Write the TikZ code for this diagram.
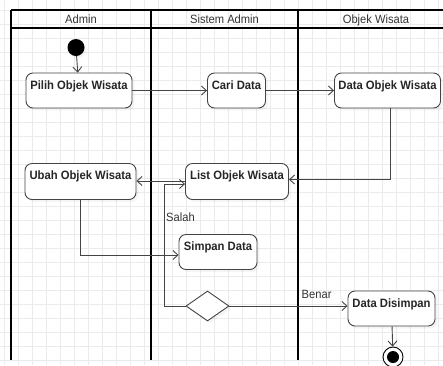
\documentclass[tikz,border=0pt]{standalone}
\usepackage{fontspec}
\setmainfont{Liberation Sans}[FakeStretch=0.93]
\usetikzlibrary{arrows.meta,shapes.geometric,shadows,calc}
\definecolor{linegray}{HTML}{444444}
\definecolor{gridgray}{HTML}{EBEBEB}
\tikzset{%
    act/.style={%
        draw=linegray, rounded corners=7, fill=white, line width=0.9,
        minimum height=35, inner sep=0pt, text height=16, text depth=19,
        font=\fontsize{12.1}{14}\selectfont\bfseries, text=black!85,
        drop shadow={shadow xshift=2.5pt, shadow yshift=-2.5pt, opacity=0.08}
    },
    flow/.style={%
        draw=linegray, line width=0.9, -{Straight Barb[length=5pt,width=9pt]}
    },
    lane/.style={%
        draw=black, line width=1.4
    },
    gridline/.style={%
        draw=gridgray, line width=0.9
    },
    lbl/.style={%
        font=\fontsize{12}{14}\selectfont, text=black!80, inner sep=0pt
    }
}

\begin{document}
\begin{tikzpicture}[x=1pt, y=-1pt]
    \useasboundingbox (0,0) rectangle (443,365);
    % background grid
    \foreach \gx in {0,...,31}
        \draw[gridline] (4.5+14*\gx,0) -- (4.5+14*\gx,365);
    \foreach \gy in {0,...,26}
        \draw[gridline] (0,-3.7+14*\gy) -- (443,-3.7+14*\gy);
    % swimlanes
    \draw[lane]
        (11,10) -- (443,10)
        (11,28) -- (443,28)
        (11,10) -- (11,360)
        (151,10) -- (151,360)
        (298,10) -- (298,360)
        ;
    \node[lbl, anchor=base] (hadm) at (81,23.3) {Admin};
    \node[lbl, anchor=base] (hsys) at (224.5,23.3) {Sistem Admin};
    \node[lbl, anchor=base] (hobj) at (376,23.3) {Objek Wisata};
    % activities
    \node[circle, fill=black, minimum size=17, inner sep=0pt,
        drop shadow={shadow xshift=2pt, shadow yshift=-2pt, opacity=0.08}] (start) at (76,47.5) {};
    \node[act, minimum width=106] (pilih) at (79,90.5) {Pilih Objek Wisata};
    \node[act, minimum width=58] (cari) at (236.5,90.5) {Cari Data};
    \node[act, minimum width=106] (dob) at (387.5,90.5) {Data Objek Wisata};
    \node[act, minimum width=111, minimum height=36, text depth=20] (ubah) at (80.5,181.5) {Ubah Objek Wisata};
    \node[act, minimum width=103, minimum height=36, text depth=20] (list) at (237,181.5) {List Objek Wisata};
    \node[act, minimum width=78] (simpan) at (218,252) {Simpan Data};
    \node[diamond, draw=linegray, fill=white, line width=0.9, minimum width=43, minimum height=30, inner sep=0pt,
        drop shadow={shadow xshift=2.5pt, shadow yshift=-2.5pt, opacity=0.08}] (cek) at (207.5,306) {};
    \node[act, minimum width=87] (dsm) at (391.5,308.5) {Data Disimpan};
    \node[circle, draw=black, line width=0.9, fill=white, minimum size=20, inner sep=0pt,
        path picture={\fill[black] (path picture bounding box.center) circle (6pt);}] (end) at (393,357) {};
    % connectors
    \draw[flow] (start) -- (pilih);
    \draw[flow] (pilih) -- (cari);
    \draw[flow] (cari) -- (dob);
    \draw[flow] ([xshift=2.5pt]dob.south) |- ([yshift=2pt]list.east);
    \draw[flow] ([yshift=0.5pt]list.west) -- ([yshift=0.5pt]list.west -| ubah.east);
    \draw[flow] (ubah.south) |- ([yshift=-3pt]simpan.west);
    \draw[flow] (cek.west) -- ++(-21,0) coordinate (bend) |- ([yshift=-2.5pt]list.west);
    \draw[flow] (cek.east) -- (cek.east -| dsm.west);
    \draw[flow] (dsm) -- (end);
    \node[lbl, anchor=base west] (salah) at (166,221.5) {Salah};
    \node[lbl, anchor=base west] (benar) at (301.5,298) {Benar};
\end{tikzpicture}
\end{document}
